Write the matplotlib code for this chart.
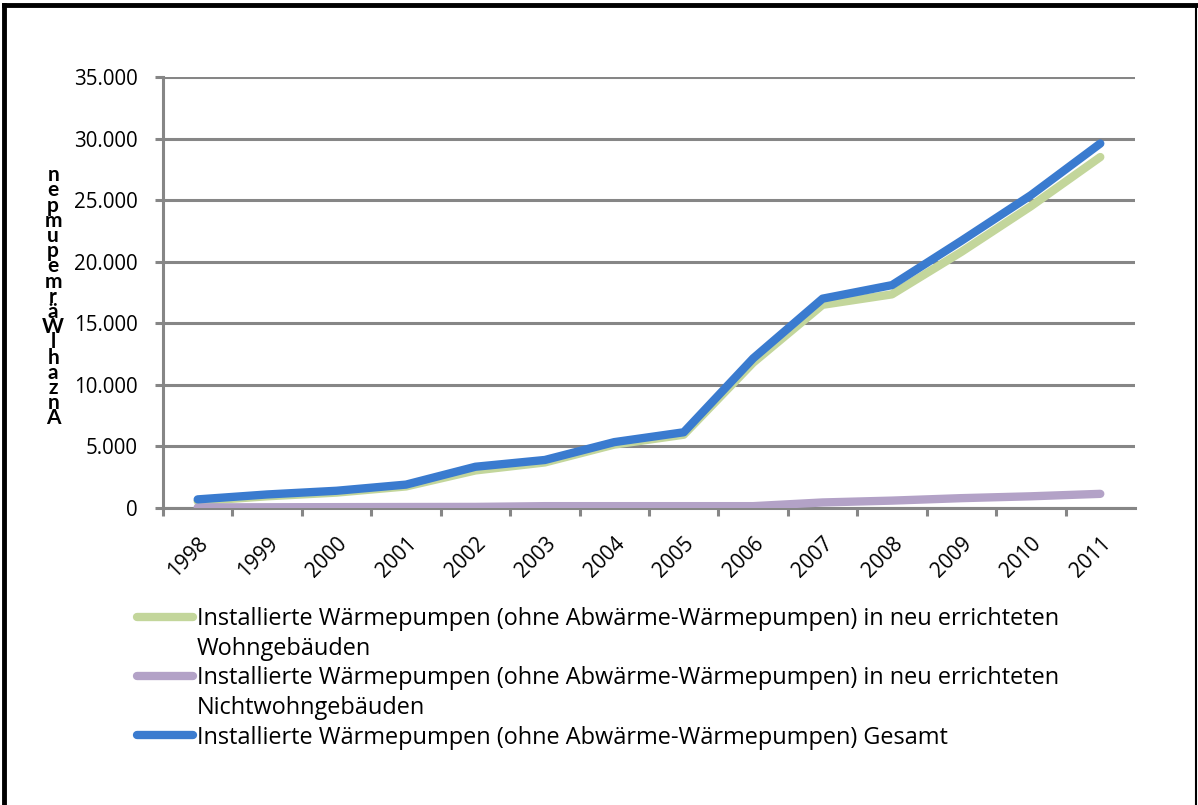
import matplotlib.pyplot as plt
from matplotlib.lines import Line2D
from matplotlib.ticker import FuncFormatter
import numpy as np

years = ['1998', '1999', '2000', '2001', '2002', '2003', '2004',
         '2005', '2006', '2007', '2008', '2009', '2010', '2011']
wohn = [550, 950, 1250, 1750, 3050, 3700, 5150, 5950, 11800, 16500, 17350, 20800, 24500, 28500]
nichtwohn = [50, 60, 70, 80, 90, 150, 150, 150, 150, 450, 600, 800, 950, 1150]
gesamt = [700, 1100, 1400, 1900, 3350, 3900, 5350, 6150, 12150, 17000, 18100, 21700, 25400, 29600]

labels = ['Installierte Wärmepumpen (ohne Abwärme-Wärmepumpen) in neu errichteten',
          'Wohngebäuden',
          'Installierte Wärmepumpen (ohne Abwärme-Wärmepumpen) in neu errichteten',
          'Nichtwohngebäuden',
          'Installierte Wärmepumpen (ohne Abwärme-Wärmepumpen) Gesamt']
ylabel = 'Anzahl Wärmepumpen'

plt.rcParams['font.family'] = ['Open Sans', 'DejaVu Sans']
grey = '#868686'

fig = plt.figure(figsize=(11.98, 8.05), dpi=100)
ax = fig.add_axes([163 / 1198, 1 - 508 / 805, (1135 - 163) / 1198, (508 - 77) / 805])

x = np.arange(len(years))
h1, = ax.plot(x, wohn, color='#C3D69B', lw=6, solid_capstyle='round', zorder=3)
h2, = ax.plot(x, nichtwohn, color='#B3A2C7', lw=6, solid_capstyle='round', zorder=4)
h3, = ax.plot(x, gesamt, color='#3A7BCF', lw=6, solid_capstyle='round', zorder=5)

ax.set_xlim(-0.5, 13.5)
ax.set_ylim(0, 35000)
ax.set_yticks(np.arange(0, 35001, 5000))
ax.yaxis.set_major_formatter(FuncFormatter(lambda v, p: f'{int(v):,}'.replace(',', '.')))
ax.grid(axis='y', color=grey, lw=2.2, zorder=1)
ax.set_axisbelow(True)

ax.set_xticks(x)
ax.set_xticklabels(years, rotation=45, ha='right', va='top', rotation_mode='anchor')
ax.set_xticks(np.arange(-0.5, 13.5, 1), minor=True)
ax.tick_params(axis='x', which='major', length=0, pad=18, labelsize=15)
ax.tick_params(axis='x', which='minor', length=6, width=2.2, color=grey)
ax.tick_params(axis='y', length=6, width=2.2, color=grey, pad=12, labelsize=14.8)

for s in ['top', 'right']:
    ax.spines[s].set_visible(False)
for s in ['left', 'bottom']:
    ax.spines[s].set_color(grey)
    ax.spines[s].set_linewidth(2.2)

ax.text(-0.113, 0.49, '\n'.join(c for c in ylabel[::-1] if c != ' '),
        transform=ax.transAxes, ha='center', va='center', fontsize=15,
        fontweight='bold', linespacing=0.7, family=['Lato', 'DejaVu Sans'])

blank = Line2D([], [], color='none')
fig.legend([h1, blank, h2, blank, h3], labels, loc='upper left',
           bbox_to_anchor=(137 / 1198, 1 - 607 / 805), frameon=False,
           fontsize=16.9, handlelength=2.4, handletextpad=0.15,
           labelspacing=0.24, borderpad=0, borderaxespad=0)

# outer frame
fig.add_artist(Line2D([4 / 1198, 4 / 1198], [0, 1 - 5 / 805], color='black', lw=3.5))
fig.add_artist(Line2D([4 / 1198, 1196 / 1198], [1 - 5 / 805, 1 - 5 / 805], color='black', lw=3.5))
fig.add_artist(Line2D([1196 / 1198, 1196 / 1198], [0, 1 - 5 / 805], color='black', lw=1.5))

fig.savefig('out.png', dpi=100)
